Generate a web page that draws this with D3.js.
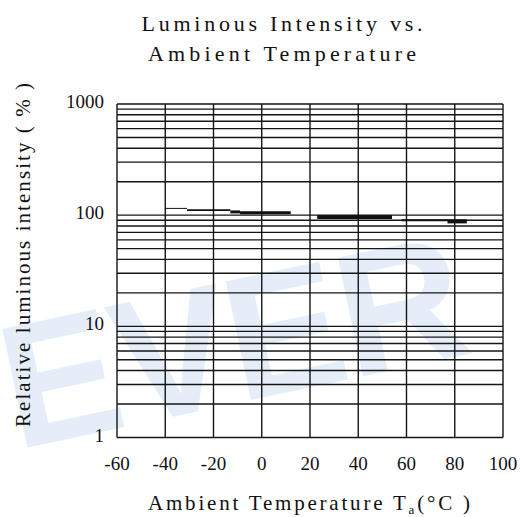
<!DOCTYPE html>
<html>
<head>
<meta charset="utf-8">
<script src="https://cdn.jsdelivr.net/npm/d3@7"></script>
<style>
  html, body { margin: 0; padding: 0; background: #fff; }
  svg { display: block; }
</style>
</head>
<body>
<script>
// chart data
const xTicks = [-60, -40, -20, 0, 20, 40, 60, 80, 100];
const yTicks = [1, 10, 100, 1000];
const segStart = [-40, -31, -13, -9, 23, 58, 77];
const segEnd = [-31, -13, -9, 12, 54, 85, 85];
const segValue = [115, 111, 107, 105, 96.5, 90, 87];

const titleLines = ['Luminous Intensity vs.', 'Ambient Temperature'];
const yTitle = 'Relative luminous intensity ( % )';

// stroke widths of the pieces, they are drawn unevenly in the sheet
const segWidths = [1, 1.6, 3, 3, 4, 2, 3];

const serif = "'Liberation Serif', 'Times New Roman', 'DejaVu Serif', serif";

function init()
{
	const width = 523, height = 517;
	const svg = d3.select('body').append('svg')
		.attr('width', width)
		.attr('height', height)
		.attr('font-family', serif);

	svg.append('rect').attr('width', width).attr('height', height).attr('fill', '#fff');

	// faint watermark behind the grid
	svg.append('text')
		.attr('transform', 'translate(16,450) rotate(-12)')
		.attr('font-family', "'Liberation Sans', 'DejaVu Sans', sans-serif")
		.attr('font-weight', 'bold')
		.attr('font-size', 176)
		.attr('textLength', 470)
		.attr('lengthAdjust', 'spacing')
		.attr('fill', '#e5eef8')
		.text('EVER');

	const x = d3.scaleLinear().domain([-60, 100]).range([117, 503]);
	const y = d3.scaleLog().domain([1, 1000]).range([437.5, 104]);

	const grid = svg.append('g')
		.attr('stroke', '#151515')
		.attr('stroke-width', 1.4)
		.attr('fill', 'none');

	grid.selectAll('line.h')
		.data(y.ticks())
		.enter()
		.append('line')
			.attr('class', 'h')
			.attr('x1', x(-60)).attr('x2', x(100))
			.attr('y1', function(d) { return y(d); })
			.attr('y2', function(d) { return y(d); });

	grid.selectAll('line.v')
		.data(xTicks)
		.enter()
		.append('line')
			.attr('class', 'v')
			.attr('x1', function(d) { return x(d); })
			.attr('x2', function(d) { return x(d); })
			.attr('y1', y(1)).attr('y2', y(1000));

	// curve
	const segs = segStart.map(function(s, i) { return {s: s, e: segEnd[i], v: segValue[i], w: segWidths[i]}; });
	svg.append('g').selectAll('line')
		.data(segs)
		.enter()
		.append('line')
			.attr('stroke', '#111')
			.attr('stroke-width', function(d) { return d.w; })
			.attr('x1', function(d) { return x(d.s); })
			.attr('x2', function(d) { return x(d.e); })
			.attr('y1', function(d) { return y(d.v); })
			.attr('y2', function(d) { return y(d.v); });

	// tick labels
	svg.append('g').selectAll('text')
		.data(xTicks)
		.enter()
		.append('text')
			.attr('x', function(d) { return x(d); })
			.attr('y', 470)
			.attr('text-anchor', 'middle')
			.attr('font-size', 19)
			.attr('fill', '#111')
			.text(function(d) { return d; });

	svg.append('g').selectAll('text')
		.data(yTicks)
		.enter()
		.append('text')
			.attr('x', 104)
			.attr('y', function(d) { return y(d) + 4; })
			.attr('text-anchor', 'end')
			.attr('font-size', 19)
			.attr('fill', '#111')
			.text(function(d) { return d; });

	// titles
	svg.selectAll('text.title')
		.data(titleLines)
		.enter()
		.append('text')
			.attr('class', 'title')
			.attr('x', 282)
			.attr('y', function(d, i) { return 31 + i * 30; })
			.attr('text-anchor', 'middle')
			.attr('textLength', function(d, i) { return i == 0 ? 281 : 268; })
			.attr('lengthAdjust', 'spacing')
			.attr('font-size', 22)
			.attr('fill', '#111')
			.text(function(d) { return d; });

	const xt = svg.append('text')
		.attr('x', 148)
		.attr('y', 510)
		.attr('textLength', 322)
		.attr('lengthAdjust', 'spacing')
		.attr('font-size', 21)
		.attr('fill', '#111');
	xt.append('tspan').text('Ambient Temperature T');
	xt.append('tspan').attr('dy', 4).attr('font-size', 13).text('a');
	xt.append('tspan').attr('dy', -4).text('(°C )');

	svg.append('text')
		.attr('transform', 'translate(30,255) rotate(-90)')
		.attr('text-anchor', 'middle')
		.attr('textLength', 344)
		.attr('lengthAdjust', 'spacing')
		.attr('font-size', 21)
		.attr('fill', '#111')
		.text(yTitle);
}
init();
</script>
</body>
</html>
